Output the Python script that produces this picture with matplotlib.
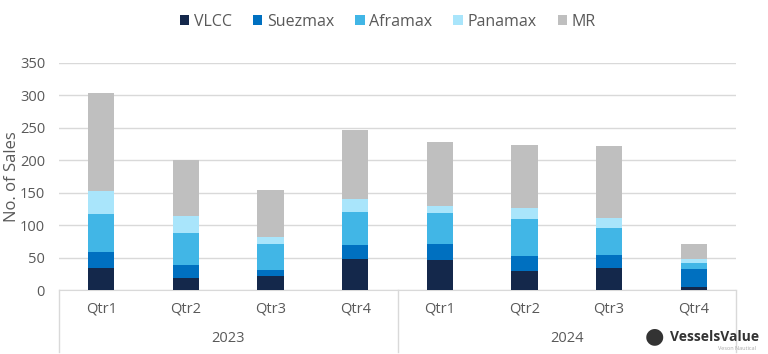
import matplotlib
matplotlib.use("Agg")
import matplotlib.pyplot as plt
import matplotlib.transforms as mtransforms
from matplotlib.lines import Line2D
import numpy as np

plt.rcParams['font.family'] = ['Open Sans', 'DejaVu Sans']

quarters = ["Qtr1", "Qtr2", "Qtr3", "Qtr4", "Qtr1", "Qtr2", "Qtr3", "Qtr4"]
years = ["2023", "2024"]
series_names = ["VLCC", "Suezmax", "Aframax", "Panamax", "MR"]
vlcc    = [34, 18, 22, 47, 46, 30, 34, 5]
suezmax = [25, 21, 9, 23, 25, 22, 20, 27]
aframax = [58, 48, 40, 50, 47, 58, 42, 10]
panamax = [36, 27, 10, 20, 12, 16, 15, 5]
mr      = [151, 86, 73, 107, 98, 98, 110, 24]
colors = ["#14284B", "#0070C0", "#41B6E6", "#A9E5FB", "#BFBFBF"]

text_col = "#595959"

fig = plt.figure(figsize=(7.68, 3.54), dpi=100)
ax = fig.add_axes([59/768, 1-290/354, (736-59)/768, (290-62.7)/354])

x = np.arange(len(quarters))
bottom = np.zeros(len(quarters))
for name, vals, c in zip(series_names, [vlcc, suezmax, aframax, panamax, mr], colors):
    ax.bar(x, vals, width=0.31, bottom=bottom, color=c, label=name, zorder=3)
    bottom += np.array(vals)

ax.set_xlim(-0.5, len(quarters) - 0.5)
ax.set_ylim(0, 350)
ax.set_yticks(range(0, 351, 50))
ax.tick_params(axis='y', length=0, labelsize=10.5, labelcolor=text_col, pad=10)
ax.grid(axis='y', color="#D9D9D9", linewidth=1, zorder=0)
for s in ["top", "right", "left"]:
    ax.spines[s].set_visible(False)
ax.spines["bottom"].set_color("#D9D9D9")
ax.set_xticks(x)
ax.set_xticklabels(quarters)
ax.tick_params(axis='x', length=0, labelsize=10.5, labelcolor=text_col, pad=8)
ax.set_ylabel("No. of Sales", fontsize=12, color=text_col, labelpad=0)

trans = mtransforms.blended_transform_factory(ax.transData, ax.transAxes)
h = ax.get_position().height * 354
depth = 62 / h
for xv in [-0.5, 3.5, 7.5]:
    ax.add_line(Line2D([xv, xv], [0, -depth], transform=trans, color="#D9D9D9",
                       linewidth=1, clip_on=False))
for i, yr in enumerate(years):
    ax.text(1.5 + 4 * i, -48 / h, yr, transform=trans, ha='center', va='center',
            fontsize=10.5, color=text_col)

leg = fig.legend(loc='center', bbox_to_anchor=(0.505, 1 - 22/354), ncol=5, frameon=False,
                 fontsize=11.5, handlelength=0.6, handleheight=0.6, handletextpad=0.3,
                 columnspacing=1.3, labelcolor=text_col)

# watermark
fig.text(0.852, 1 - 337/354, "\u25CF", fontsize=16, color="#333333", ha='center', va='center')
fig.text(0.872, 1 - 337/354, "VesselsValue", fontsize=10, color="#333333",
         fontweight='bold', ha='left', va='center')
fig.text(0.985, 1 - 349/354, "Veson Nautical", fontsize=4, color="#AAAAAA",
         ha='right', va='center')

fig.savefig("out.png", dpi=100)
